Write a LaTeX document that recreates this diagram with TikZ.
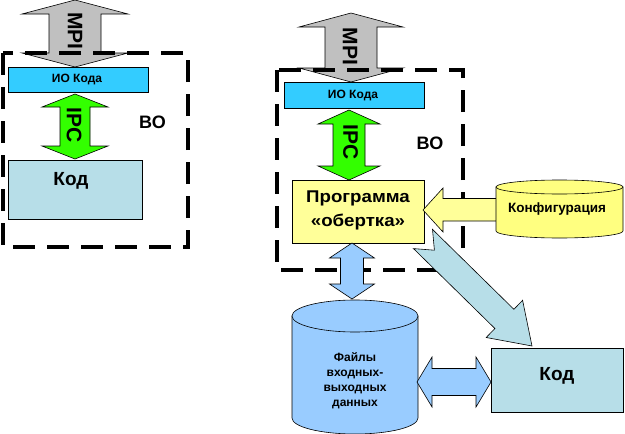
\documentclass[tikz,border=0pt]{standalone}
\usepackage{fontspec}
\setmainfont{Liberation Sans}
\definecolor{mpigray}{RGB}{192,192,192}
\definecolor{iocyan}{RGB}{51,204,255}
\definecolor{ipcgreen}{RGB}{51,255,0}
\definecolor{kodteal}{RGB}{183,222,232}
\definecolor{fileblue}{RGB}{153,204,255}
\definecolor{wrapyellow}{RGB}{255,255,153}
\definecolor{cfgyellow}{RGB}{255,255,128}
% vertical double block arrow: cx, ytop, ybot, shaft half, head half, head length, style
\newcommand{\vdblock}[7]{\filldraw[#7] (#1,#2) -- (#1+#5,#2+#6) -- (#1+#4,#2+#6) -- (#1+#4,#3-#6) -- (#1+#5,#3-#6) -- (#1,#3) -- (#1-#5,#3-#6) -- (#1-#4,#3-#6) -- (#1-#4,#2+#6) -- (#1-#5,#2+#6) -- cycle;}
% horizontal double block arrow: cy, xleft, xright, shaft half, head half, head length, style
\newcommand{\hdblock}[7]{\filldraw[#7] (#2,#1) -- (#2+#6,#1-#5) -- (#2+#6,#1-#4) -- (#3-#6,#1-#4) -- (#3-#6,#1-#5) -- (#3,#1) -- (#3-#6,#1+#5) -- (#3-#6,#1+#4) -- (#2+#6,#1+#4) -- (#2+#6,#1+#5) -- cycle;}
% cylinder: x1, x2, ytop centre, ybottom centre, ry, style
\newcommand{\cylblock}[6]{%
 \filldraw[#6] (#1,#3) -- (#1,#4) arc[start angle=180,end angle=0,x radius={(#2-#1)/2},y radius=#5] -- (#2,#3) -- cycle;
 \filldraw[#6] ({(#1+#2)/2},#3) ellipse[x radius={(#2-#1)/2},y radius=#5];}
\begin{document}
\begin{tikzpicture}[x=1pt,y=-1pt,
  outl/.style={draw=black,line width=0.6pt},
  vobox/.style={draw=black,line width=3.6pt,dash pattern=on 22pt off 12pt},
  boxn/.style={outl,rectangle,inner sep=0pt},
  lbl/.style={font=\bfseries,inner sep=0pt,align=center}]
\useasboundingbox (0,0) rectangle (625,434);
% MPI arrows (below the dashed frames)
\vdblock{75}{0}{67}{26}{53}{14}{outl,fill=mpigray}
\vdblock{351}{13}{82}{26}{52}{14}{outl,fill=mpigray}
% dashed frames
\draw[vobox] (3,53) rectangle (188,247);
\draw[vobox] (277,70) rectangle (463,270);
% left part
\node[boxn,fill=iocyan,minimum width=140pt,minimum height=25pt] (io1) at (78,79.5) {};
\node[boxn,fill=kodteal,minimum width=134pt,minimum height=59pt] (kod1) at (75,189.5) {};
\vdblock{75}{94}{159}{15}{33}{13}{outl,fill=ipcgreen}
% right part
\node[boxn,fill=iocyan,minimum width=140pt,minimum height=26pt] (io2) at (354,95) {};
\vdblock{349}{110}{180}{16}{31}{14}{outl,fill=ipcgreen}
% diagonal arrow to Kod
\filldraw[outl,fill=kodteal] (532,346) -- (522.6,300.3) -- (513.9,309.3) -- (432.5,229.4) -- (434.4,250.2) -- (413.5,248.6) -- (494.9,328.5) -- (486.2,337.5) -- cycle;
\node[boxn,fill=wrapyellow,minimum width=132pt,minimum height=63pt] (prog) at (358,211.5) {};
% config arrow
\filldraw[outl,fill=wrapyellow] (423,210) -- (443,188) -- (443,198.5) -- (510,198.5) -- (510,221) -- (443,221) -- (443,232) -- cycle;
\cylblock{496}{623}{187}{231}{7}{outl,fill=cfgyellow}
\cylblock{292}{418}{316}{418}{16}{outl,fill=fileblue}
\vdblock{352}{243}{299}{11.5}{22.5}{15}{outl,fill=fileblue}
\node[boxn,fill=kodteal,minimum width=132pt,minimum height=64pt] (kod2) at (557,380) {};
\hdblock{382}{417}{491}{13.5}{25}{15}{outl,fill=fileblue}
% texts
\node[lbl,font=\bfseries\fontsize{21}{21}\selectfont,rotate=-90] (mpi1) at (75,31) {MPI};
\node[lbl,font=\bfseries\fontsize{21}{21}\selectfont,rotate=-90] (mpi2) at (350,46.5) {MPI};
\node[lbl,font=\bfseries\fontsize{21}{21}\selectfont,rotate=-90] (ipc1) at (74,125) {IPC};
\node[lbl,font=\bfseries\fontsize{21}{21}\selectfont,rotate=-90] (ipc2) at (350.5,142.5) {IPC};
\node[lbl,font=\bfseries\fontsize{12}{12}\selectfont] (io1t) at (77,80) {ИО Кода};
\node[lbl,font=\bfseries\fontsize{12}{12}\selectfont] (io2t) at (353,95.5) {ИО Кода};
\node[lbl,font=\bfseries\fontsize{19}{19}\selectfont] (kod1t) at (71,181) {Код};
\node[lbl,font=\bfseries\fontsize{19}{19}\selectfont] (kod2t) at (557,376) {Код};
\node[lbl,font=\bfseries\fontsize{18}{18}\selectfont] (vo1) at (152.5,122) {ВО};
\node[lbl,font=\bfseries\fontsize{18}{18}\selectfont] (vo2) at (430,143) {ВО};
\node[lbl,font=\bfseries\fontsize{17}{24}\selectfont,xscale=1.1] (progt) at (358,210) {Программа\\«обертка»};
\node[lbl,font=\bfseries\fontsize{13.5}{14}\selectfont] (cfgt) at (557,209) {Конфигурация};
\node[lbl,font=\bfseries\fontsize{12}{15}\selectfont] (filest) at (355,381) {Файлы\\входных-\\выходных\\данных};
\end{tikzpicture}
\end{document}
